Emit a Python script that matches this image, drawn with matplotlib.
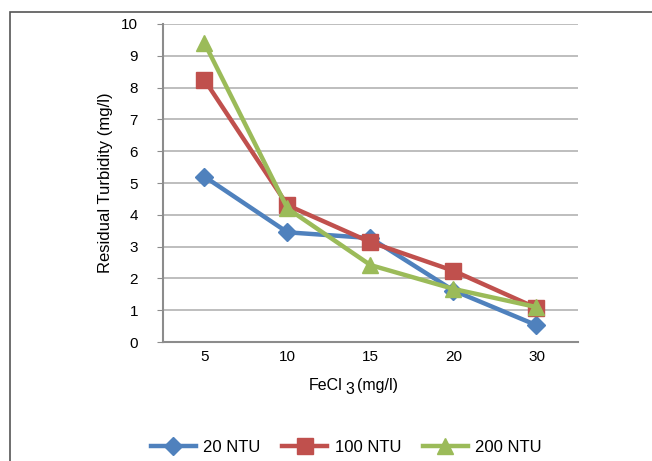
import numpy as np
import matplotlib.pyplot as plt
from matplotlib.patches import Rectangle

plt.rcParams['font.family'] = ['Liberation Sans', 'DejaVu Sans']

# dados
doses = ['5', '10', '15', '20', '30']
ntu20 = [5.2, 3.45, 3.27, 1.62, 0.53]
ntu100 = [8.24, 4.3, 3.14, 2.24, 1.07]
ntu200 = [9.4, 4.2, 2.42, 1.67, 1.1]

W, H = 652, 461
fig = plt.figure(figsize=(W / 100, H / 100), dpi=100)
ax = fig.add_axes([0.25, 0.258, 0.6365, 0.69])

# moldura do gráfico (cortada à direita e em baixo)
fig.patches.append(Rectangle((10 / W, -0.5), 2, 1.5 - 12 / H,
                             transform=fig.transFigure, fill=False,
                             edgecolor='#555555', linewidth=1.2))

x = np.arange(len(doses))
ax.plot(x, ntu20, color='#4F81BD', lw=3.2, marker='D', ms=9, label='20 NTU')
ax.plot(x, ntu100, color='#C0504D', lw=3.2, marker='s', ms=11, label='100 NTU')
ax.plot(x, ntu200, color='#9BBB59', lw=3.2, marker='^', ms=12, label='200 NTU')

ax.set_xlim(-0.5, len(doses) - 0.5)
ax.set_ylim(0, 10)
ax.set_yticks(range(0, 11))
ax.set_xticks(x)
ax.set_xticklabels(doses)
ax.yaxis.grid(True, color='#b3b3b3', lw=1.2)
ax.set_axisbelow(True)
for s in ['top', 'right']:
    ax.spines[s].set_visible(False)
for s in ['left', 'bottom']:
    ax.spines[s].set_color('#8c8c8c')
    ax.spines[s].set_linewidth(1.5)
ax.tick_params(axis='y', length=4, color='#8c8c8c', labelsize=11, pad=14)
ax.tick_params(axis='x', length=0, labelsize=11, pad=6)

ax.set_ylabel('Residual Turbidity (mg/l)', fontsize=12, labelpad=6)

# rótulo do eixo x: FeCl 3 (mg/l), com o 3 rebaixado
fig.text(343 / W, 1 - 385 / H, 'FeCl', fontsize=11.5, ha='right', va='center')
fig.text(349.5 / W, 1 - 390 / H, '3', fontsize=11.5, ha='center', va='center')
fig.text(357 / W, 1 - 385 / H, '(mg/l)', fontsize=11.5, ha='left', va='center')

fig.legend(loc='center', bbox_to_anchor=(0.531, 1 - 447 / H), ncol=3, frameon=False,
           fontsize=12, handlelength=2.7, columnspacing=1.3, handletextpad=0.45)

fig.savefig('out.png', dpi=100)
